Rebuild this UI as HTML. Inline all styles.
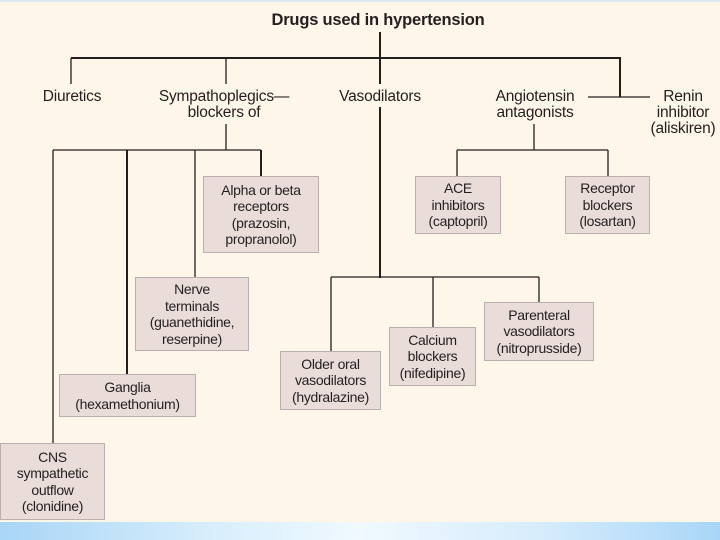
<!DOCTYPE html>
<html><head><meta charset="utf-8"><style>
html,body{margin:0;padding:0}
body{width:720px;height:540px;position:relative;overflow:hidden;background:#fdf6e9;font-family:"Liberation Sans",sans-serif;color:#231f20}
.t{position:absolute;font-size:15.5px;line-height:16px;text-align:center;white-space:nowrap;transform:translateX(-50%);letter-spacing:-0.2px}
.b{position:absolute;background:#e9dcd9;border:1.5px solid #bcaeb0;box-sizing:border-box;font-size:14px;line-height:16.5px;text-align:center;display:flex;align-items:center;justify-content:center;letter-spacing:-0.3px}
.strip{position:absolute;left:0;top:522px;width:720px;height:18px;background:linear-gradient(90deg,#a9d5f6 0%,#d8eefc 30%,#f0f9ff 50%,#d6ecfc 75%,#a8d6f8 100%)}
.top{position:absolute;left:0;top:0;width:720px;height:2px;background:#dde9f0}
</style></head><body>
<div class="top"></div>
<svg width="720" height="540" style="position:absolute;left:0;top:0" fill="none" stroke="#231f20">
<g stroke-width="2">
<line x1="380" y1="32" x2="380" y2="59"/>
<line x1="71" y1="58" x2="621" y2="58"/>
<line x1="380" y1="58" x2="380" y2="84"/>
<line x1="620" y1="58" x2="620" y2="97"/>
<line x1="380" y1="107" x2="380" y2="278"/>
<line x1="127" y1="150" x2="127" y2="374"/>
<line x1="261" y1="150" x2="261" y2="176"/>
</g>
<g stroke-width="1.3">
<line x1="71" y1="58" x2="71" y2="84"/>
<line x1="226" y1="58" x2="226" y2="84"/>
<line x1="588" y1="97" x2="650" y2="97"/>
<line x1="226" y1="124" x2="226" y2="150"/>
<line x1="53" y1="150" x2="261" y2="150"/>
<line x1="53" y1="150" x2="53" y2="443"/>
<line x1="195" y1="150" x2="195" y2="277"/>
<line x1="534" y1="124" x2="534" y2="150"/>
<line x1="457" y1="150" x2="608" y2="150"/>
<line x1="457" y1="150" x2="457" y2="176"/>
<line x1="608" y1="150" x2="608" y2="176"/>
<line x1="331" y1="277" x2="539" y2="277"/>
<line x1="331" y1="277" x2="331" y2="351"/>
<line x1="433" y1="277" x2="433" y2="327"/>
<line x1="539" y1="277" x2="539" y2="302"/>
</g>
</svg>
<div class="t" style="left:378px;top:12px;font-size:16.5px;font-weight:bold">Drugs used in hypertension</div>
<div class="t" style="left:72px;top:89px">Diuretics</div>
<div class="t" style="left:224px;top:89px">Sympathoplegics—<br>blockers of</div>
<div class="t" style="left:380px;top:89px">Vasodilators</div>
<div class="t" style="left:535px;top:89px">Angiotensin<br>antagonists</div>
<div class="t" style="left:683px;top:89px">Renin<br>inhibitor<br>(aliskiren)</div>
<div class="b" style="left:203px;top:176px;width:116px;height:77px">Alpha or beta<br>receptors<br>(prazosin,<br>propranolol)</div>
<div class="b" style="left:415px;top:176px;width:86px;height:58px">ACE<br>inhibitors<br>(captopril)</div>
<div class="b" style="left:565px;top:176px;width:85px;height:58px">Receptor<br>blockers<br>(losartan)</div>
<div class="b" style="left:135px;top:277px;width:114px;height:74px">Nerve<br>terminals<br>(guanethidine,<br>reserpine)</div>
<div class="b" style="left:59px;top:374px;width:137px;height:43px">Ganglia<br>(hexamethonium)</div>
<div class="b" style="left:0px;top:443px;width:105px;height:77px">CNS<br>sympathetic<br>outflow<br>(clonidine)</div>
<div class="b" style="left:280px;top:351px;width:101px;height:59px">Older oral<br>vasodilators<br>(hydralazine)</div>
<div class="b" style="left:389px;top:327px;width:87px;height:59px">Calcium<br>blockers<br>(nifedipine)</div>
<div class="b" style="left:484px;top:302px;width:110px;height:59px">Parenteral<br>vasodilators<br>(nitroprusside)</div>
<div class="strip"></div>
</body></html>
